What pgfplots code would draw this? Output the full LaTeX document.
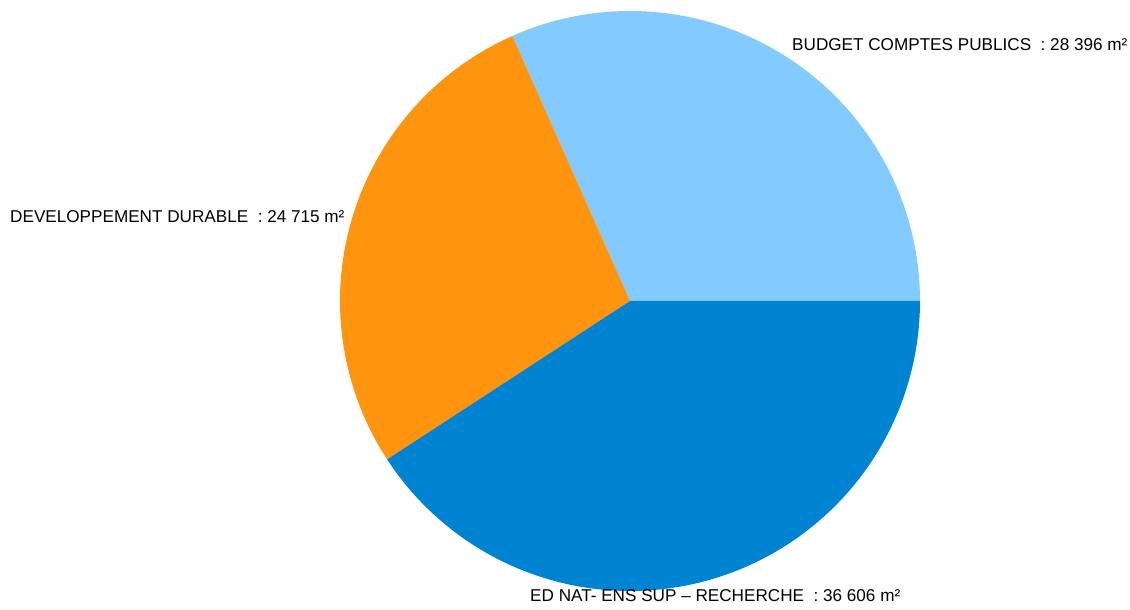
\documentclass[border=0pt]{standalone}
\usepackage{pgfplots}
\pgfplotsset{compat=1.18}
\usepackage{fontspec}
\setmainfont{Liberation Sans}
\definecolor{lightb}{HTML}{83CAFF}
\definecolor{orng}{HTML}{FF950E}
\definecolor{darkb}{HTML}{0084D1}
\begin{document}
\begin{tikzpicture}
% values (thousand m²)
\pgfmathsetmacro{\vA}{28.396}% BUDGET COMPTES PUBLICS
\pgfmathsetmacro{\vB}{24.715}% DEVELOPPEMENT DURABLE
\pgfmathsetmacro{\vC}{36.606}% ED NAT- ENS SUP – RECHERCHE
\pgfmathsetmacro{\tot}{\vA+\vB+\vC}
\pgfmathsetmacro{\aA}{0}
\pgfmathsetmacro{\aB}{\vA/\tot*360}
\pgfmathsetmacro{\aC}{(\vA+\vB)/\tot*360}
\pgfmathsetmacro{\aD}{360}
\begin{axis}[
  width=1130bp, height=610bp, scale only axis,
  xmin=0, xmax=1130, ymin=0, ymax=610,
  axis lines=none, clip=false,
]
\path (rel axis cs:0,0) (rel axis cs:1,1);
\addplot[draw=none, fill=lightb, domain=\aA:\aB, samples=120, variable=\t]
  ({630+290*cos(t)},{309+290*sin(t)}) -- (axis cs:630,309) -- cycle;
\addplot[draw=none, fill=orng, domain=\aB:\aC, samples=120, variable=\t]
  ({630+290*cos(t)},{309+290*sin(t)}) -- (axis cs:630,309) -- cycle;
\addplot[draw=none, fill=darkb, domain=\aC:\aD, samples=120, variable=\t]
  ({630+290*cos(t)},{309+290*sin(t)}) -- (axis cs:630,309) -- cycle;
\node[anchor=west, inner sep=0pt, font=\fontsize{17.2}{20}\selectfont] at (axis cs:792,565) {BUDGET COMPTES PUBLICS\ \ : 28 396 m²};
\node[anchor=west, inner sep=0pt, font=\fontsize{17.2}{20}\selectfont] at (axis cs:10,393) {DEVELOPPEMENT DURABLE\ \ : 24 715 m²};
\node[anchor=west, inner sep=0pt, font=\fontsize{17.2}{20}\selectfont] at (axis cs:530,14) {ED NAT- ENS SUP – RECHERCHE\ \ : 36 606 m²};
\end{axis}
\end{tikzpicture}
\end{document}
